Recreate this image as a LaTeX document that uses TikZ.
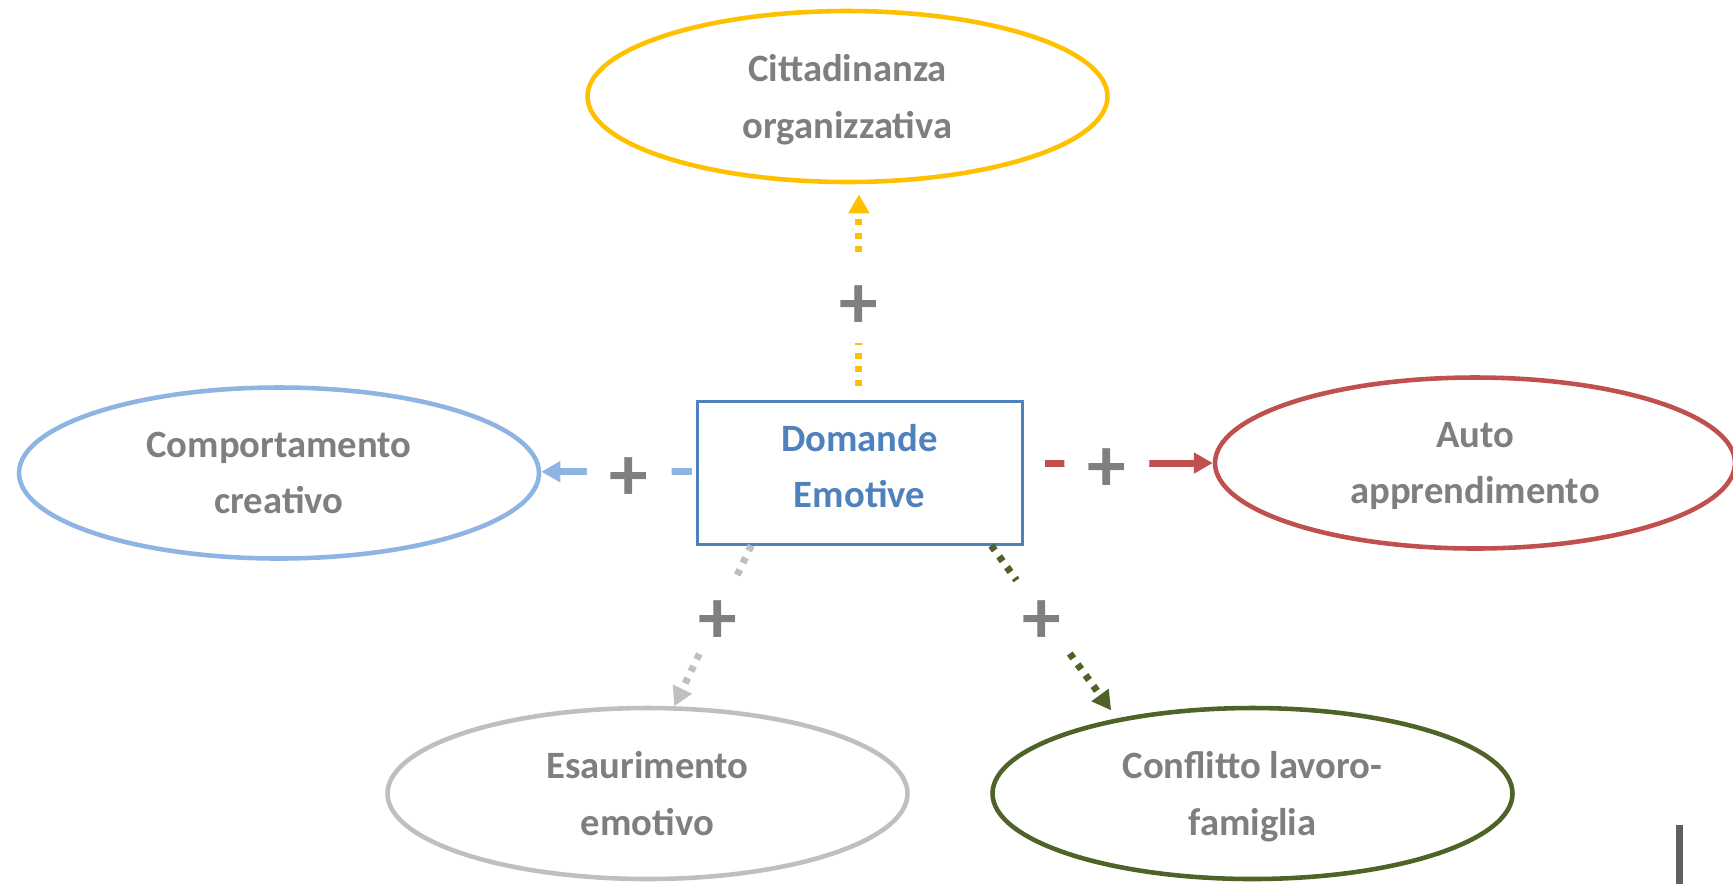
\documentclass[tikz,border=0pt]{standalone}
\usepackage{fontspec}
\setmainfont{Carlito}
\usetikzlibrary{shapes.geometric,arrows.meta}
\definecolor{textgray}{HTML}{7F7F7F}
\definecolor{goldline}{HTML}{FFC000}
\definecolor{skyline}{HTML}{8EB4E3}
\definecolor{brickline}{HTML}{C0504D}
\definecolor{silverline}{HTML}{BFBFBF}
\definecolor{oliveline}{HTML}{4F6228}
\definecolor{boxblue}{HTML}{4F81BD}
\definecolor{cursorgray}{HTML}{5F5F5F}
\newcommand{\plussign}{\raisebox{-2pt}[\height][\depth]{+}}
\begin{document}
\begin{tikzpicture}[scale=0.1]
    \tikzstyle{every node}+=[inner sep=0pt]
    \tikzstyle{outcome}=[ellipse, draw, line width=1.3pt, minimum width=5.2cm, minimum height=1.71cm, align=center, text=textgray, font=\fontsize{11}{16}\selectfont\bfseries]
    \tikzstyle{link}=[line width=2pt, -{Triangle[length=5.4pt,width=5.7pt]}]
    \tikzstyle{dotlink}=[link, dash pattern=on 1.7pt off 2.1pt]
    \tikzstyle{plus}=[circle, fill=white, minimum size=0.85cm, text=textgray, font=\fontsize{22}{22}\selectfont\bfseries]
    \useasboundingbox (0,0) rectangle (173.3,-88.4);
    \node [outcome, draw=goldline] (cittadinanza) at (84.75,-9.65) {Cittadinanza\\\smash{organizzativa}};
    \node [outcome, draw=skyline] (comportamento) at (27.9,-47.3) {Comportamento\\creativo};
    \node [outcome, draw=brickline] (auto) at (147.5,-46.3) {Auto\\\smash{apprendimento}};
    \node [outcome, draw=silverline] (esaurimento) at (64.75,-79.35) {Esaurimento\\emotivo};
    \node [outcome, draw=oliveline] (conflitto) at (125.25,-79.35) {Conflitto lavoro-\\\smash{famiglia}};
    \node [draw=boxblue, line width=0.85pt, minimum width=3.25cm, minimum height=1.43cm, align=center, text=boxblue, font=\fontsize{11}{16}\selectfont\bfseries] (domande) at (85.95,-47.25) {Domande\\Emotive\rule[-3.8pt]{0pt}{0pt}};
    \draw [dotlink, goldline, shorten <=1.4mm, shorten >=1mm] ([xshift=-0.65mm]domande.north) -- ([xshift=-0.65mm]domande.north |- cittadinanza.south) node [plus, pos=0.46] {\plussign};
    \draw [link, skyline, shorten <=0.4mm] ([yshift=0.8mm]domande.west) -- ([yshift=0.8mm]domande.west -| comportamento.east) node [plus, pos=0.43] {\plussign};
    \draw [link, brickline, shorten <=2.1mm] (domande.east |- auto.west) -- (auto.west) node [plus, pos=0.44] {\plussign};
    \draw [dotlink, silverline] (domande.214) -- (esaurimento.73) node [plus, pos=0.43] {\plussign};
    \draw [dotlink, oliveline, shorten >=1mm] (domande.331) -- (conflitto.151) node [plus, pos=0.4] {\plussign};
    \fill [cursorgray] (167.6,-82.5) rectangle (168.3,-88.4);
\end{tikzpicture}
\end{document}
